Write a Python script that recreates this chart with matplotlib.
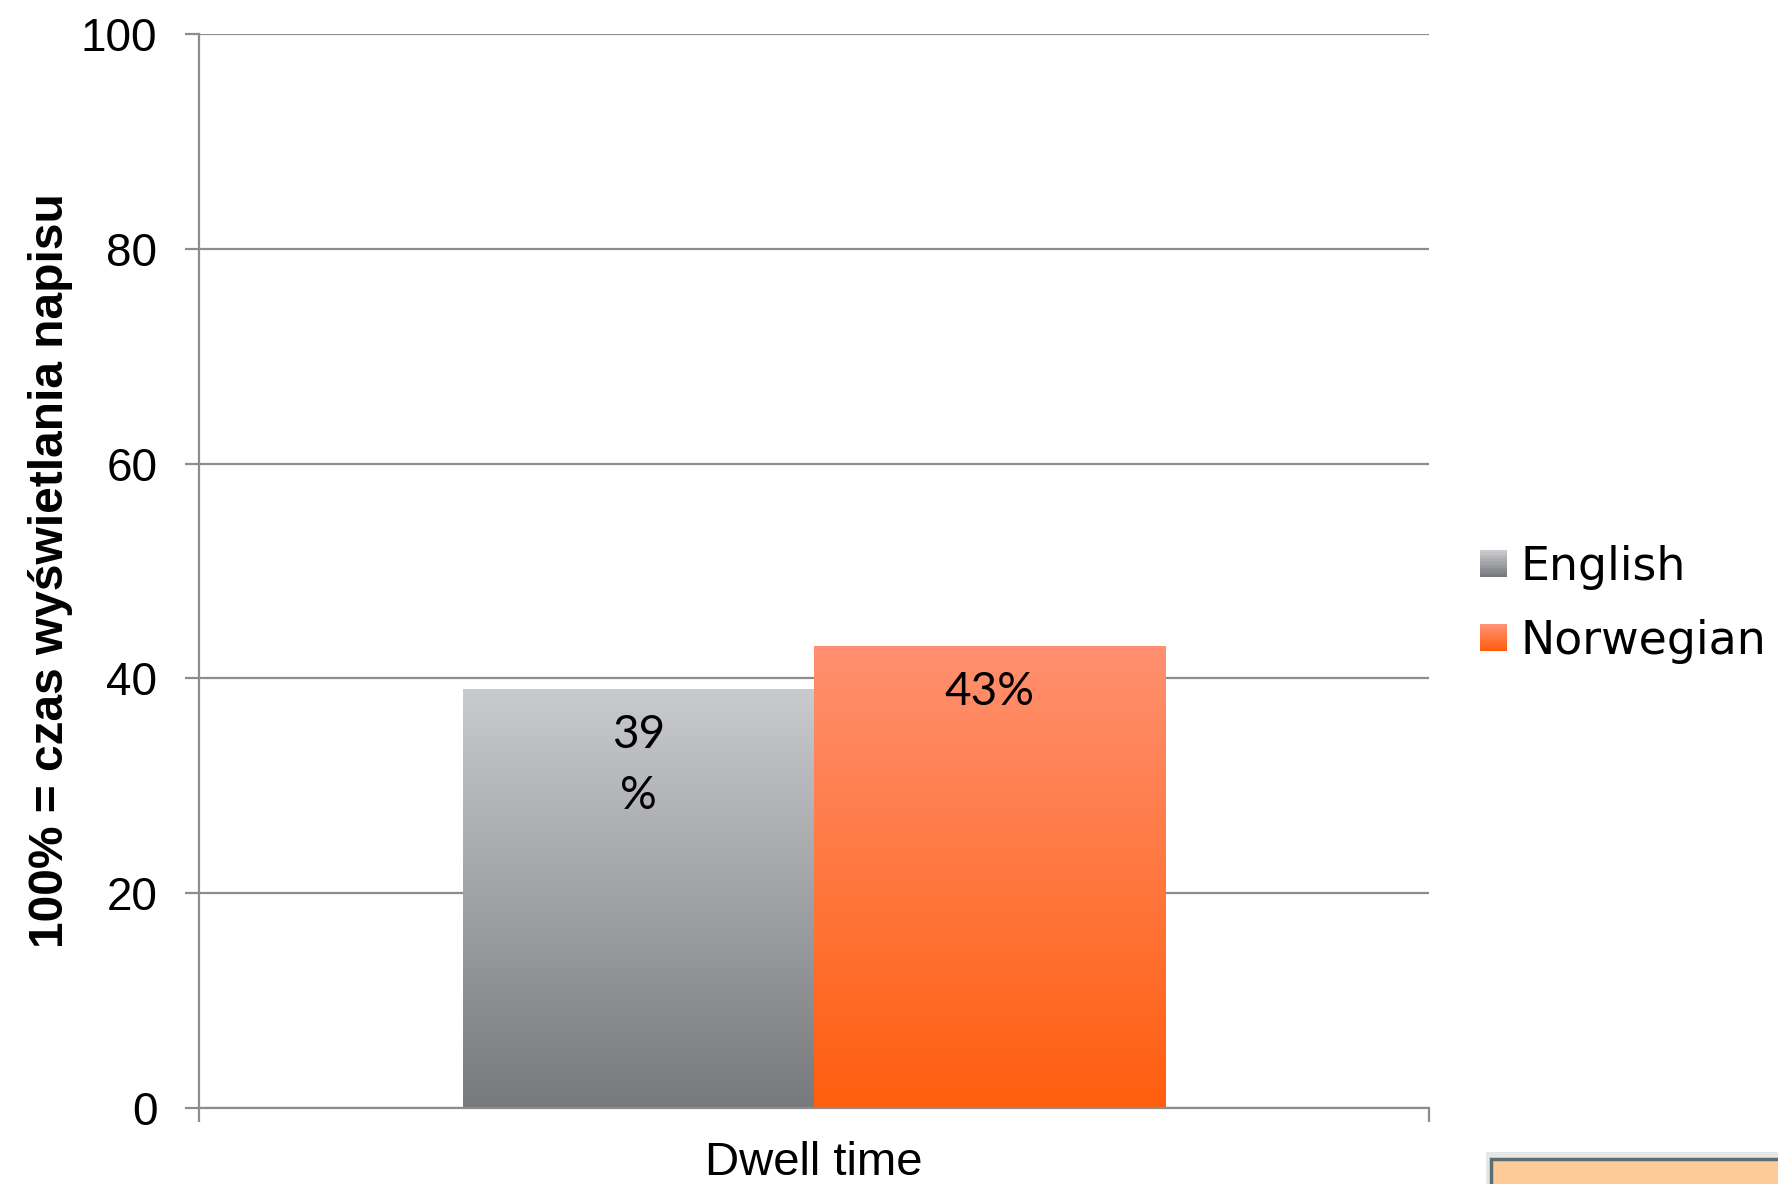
import numpy as np
import matplotlib
matplotlib.use("Agg")
import matplotlib.pyplot as plt
from matplotlib.patches import Rectangle
from matplotlib.legend_handler import HandlerBase
from matplotlib.colors import LinearSegmentedColormap

# ---- data ----
category = "Dwell time"
series = ["English", "Norwegian"]
values = [39, 43]
labels = ["39\n%", "43%"]
y_ticks = [0, 20, 40, 60, 80, 100]
y_label = "100% = czas wyświetlania napisu"

# gradient colours (top, bottom)
grad_colors = [("#c9cacd", "#78797c"), ("#ff9070", "#ff5e0e")]

fig = plt.figure(figsize=(17.78, 11.84), dpi=100)
ax = fig.add_axes([0.1120, 0.0642, 0.6917, 0.9071])

bar_w = 0.2857
offsets = [-bar_w / 2, bar_w / 2]
ax.set_xlim(-0.5, 0.5)
ax.set_ylim(0, 100)

grid_c = "#8d8d8d"
ax.set_yticks(y_ticks)
ax.yaxis.grid(True, color=grid_c, linewidth=1.6, zorder=0)
ax.set_axisbelow(True)

for i, (s, v, lab, (ct, cb)) in enumerate(zip(series, values, labels, grad_colors)):
    bars = ax.bar(offsets[i], v, width=bar_w, color="none", edgecolor="none", zorder=2, label=s)
    b = bars[0]
    cmap = LinearSegmentedColormap.from_list(f"g{i}", [cb, ct])
    grad = np.linspace(0, 1, 256).reshape(-1, 1)
    x0 = b.get_x()
    im = ax.imshow(grad, cmap=cmap, origin="lower", aspect="auto",
                   extent=[x0, x0 + bar_w, 0, v], zorder=2)
    im.set_clip_path(b)

ax.set_xlim(-0.5, 0.5)
ax.set_ylim(0, 100)

# data labels
lab_font = ["Lato"]
ax.text(offsets[0], values[0] - 2.3, labels[0], ha="center", va="top",
        fontsize=33, family=lab_font, linespacing=1.55, zorder=3)
ax.text(offsets[1], values[1] - 2.3, labels[1], ha="center", va="top",
        fontsize=33, family=lab_font, zorder=3)

# spines
for sp in ["top", "right"]:
    ax.spines[sp].set_visible(False)
for sp in ["left", "bottom"]:
    ax.spines[sp].set_color(grid_c)
    ax.spines[sp].set_linewidth(1.6)

ax.tick_params(axis="y", direction="out", length=10, width=1.6, color=grid_c,
               labelsize=33, pad=20)
for t in ax.get_yticklabels():
    t.set_family(["Liberation Sans"])
ax.set_xticks([-0.5, 0.5])
ax.set_xticklabels(["", ""])
ax.set_xticks([0], minor=True)
ax.set_xticklabels([category], minor=True, fontsize=34, family=["Liberation Sans"])
ax.tick_params(axis="x", which="major", direction="out", length=10, width=1.6, color=grid_c)
ax.tick_params(axis="x", which="minor", length=0, pad=24)

ax.set_ylabel(y_label, fontsize=34.5, fontweight="bold", family=["Liberation Sans"], labelpad=6)


class GradHandler(HandlerBase):
    def __init__(self, ct, cb):
        super().__init__()
        self.ct, self.cb = ct, cb

    def create_artists(self, legend, orig_handle, xdescent, ydescent, width, height, fontsize, trans):
        cmap = LinearSegmentedColormap.from_list("h", [self.cb, self.ct])
        n = 12
        side = height * 0.95
        x = -xdescent + width - side
        arts = []
        for k in range(n):
            r = Rectangle((x, -ydescent + (height - side) / 2 + side * k / n), side, side / n + 0.2,
                          facecolor=cmap(k / (n - 1)), edgecolor="none", transform=trans)
            arts.append(r)
        return arts


handles = [Rectangle((0, 0), 1, 1) for _ in series]
hm = {h: GradHandler(ct, cb) for h, (ct, cb) in zip(handles, grad_colors)}
leg = fig.legend(handles, series, handler_map=hm, loc="center left",
                 bbox_to_anchor=(0.8225, 0.4895), frameon=False,
                 prop={"family": "DejaVu Sans", "size": 33}, handlelength=0.57, handleheight=0.57,
                 handletextpad=0.3, labelspacing=0.64, borderaxespad=0)

# partial peach box at bottom-right
shadow = Rectangle((1486 / 1778, 0), 1, (1184 - 1152) / 1184, transform=fig.transFigure,
                   facecolor="#dddddd", edgecolor="none", alpha=0.7, zorder=0)
fig.patches.append(shadow)
box = Rectangle((1491 / 1778, -0.05), 0.5, 0.05 + (1184 - 1159) / 1184, transform=fig.transFigure,
                facecolor="#fdca98", edgecolor="#5b6f75", linewidth=2.5, zorder=1)
fig.patches.append(box)

fig.savefig("out.png", dpi=100)
